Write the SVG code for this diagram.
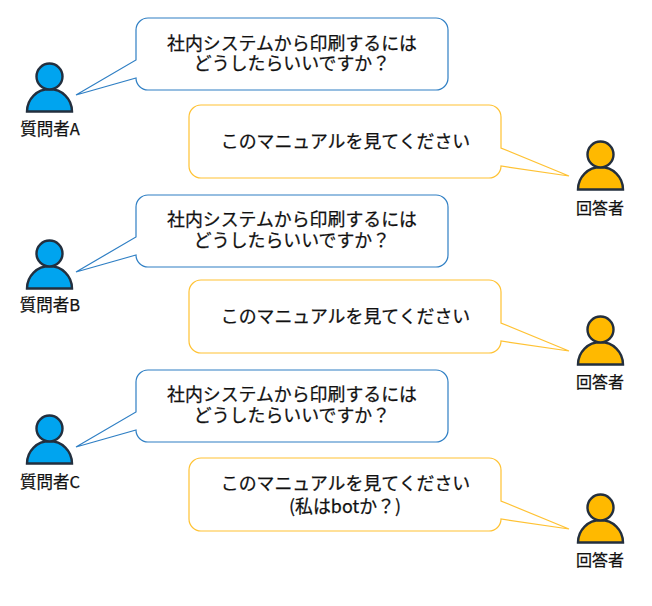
<svg xmlns="http://www.w3.org/2000/svg" width="652" height="606" viewBox="0 0 652 606">
<style>
text{font-family:"Noto Sans CJK JP","Liberation Sans",sans-serif;fill:#111;text-anchor:middle;stroke:#111;stroke-width:.25}
.m{font-size:17.9px}
.l{font-size:16px}
.n{font-size:16.500px}
.q{fill:#fff;stroke:#2f7fc4;stroke-width:1.2;stroke-linejoin:miter}
.a{fill:#fff;stroke:#ffc233;stroke-width:1.2;stroke-linejoin:miter}
.pq{fill:#00a4ef;stroke:#232f3e;stroke-width:2.4}
.pa{fill:#ffb900;stroke:#232f3e;stroke-width:2.4}
</style>
<defs>
<path id="bq" d="M148 18H436A12 12 0 0 1 448 30V78A12 12 0 0 1 436 90H148A12 12 0 0 1 136 78L76 95L136 60V30A12 12 0 0 1 148 18Z"/>
<path id="ba" d="M201 105H489A12 12 0 0 1 501 117V148L569 176L501 166A12 12 0 0 1 489 178H201A12 12 0 0 1 189 166V117A12 12 0 0 1 201 105Z"/>
<g id="person"><path d="M27 111.500A22.500 22.500 0 0 1 72 111.500Z"/><circle cx="49.500" cy="76.500" r="13"/></g>
</defs>
<g id="connectors"/>
<g id="asker-a"><use href="#person" class="pq"/><text class="n" x="50" y="134.500">質問者A</text></g>
<g id="q-a"><use href="#bq" class="q"/><text class="m" x="292" y="49.500">社内システムから印刷するには</text><text class="m" x="292" y="69.500">どうしたらいいですか？</text></g>
<g id="a-a"><use href="#ba" class="a"/><text class="m" x="345.500" y="148">このマニュアルを見てください</text></g>
<g id="answerer-a"><use href="#person" class="pa" transform="translate(551,78)"/><text class="l" x="600" y="214">回答者</text></g>
<g id="asker-b"><use href="#person" class="pq" transform="translate(0,177)"/><text class="n" x="50" y="311">質問者B</text></g>
<g id="q-b"><use href="#bq" class="q" transform="translate(0,177)"/><text class="m" x="292" y="225.500">社内システムから印刷するには</text><text class="m" x="292" y="246.500">どうしたらいいですか？</text></g>
<g id="a-b"><use href="#ba" class="a" transform="translate(0,175)"/><text class="m" x="345.500" y="322.500">このマニュアルを見てください</text></g>
<g id="answerer-b"><use href="#person" class="pa" transform="translate(551,253)"/><text class="l" x="600" y="388">回答者</text></g>
<g id="asker-c"><use href="#person" class="pq" transform="translate(0,352)"/><text class="n" x="50" y="488">質問者C</text></g>
<g id="q-c"><use href="#bq" class="q" transform="translate(0,352)"/><text class="m" x="292" y="400.500">社内システムから印刷するには</text><text class="m" x="292" y="421.500">どうしたらいいですか？</text></g>
<g id="a-c"><use href="#ba" class="a" transform="translate(0,353)"/><text class="m" x="345.500" y="489.500">このマニュアルを見てください</text><text class="m" x="345" y="512.500">(私はbotか？)</text></g>
<g id="answerer-c"><use href="#person" class="pa" transform="translate(551,431)"/><text class="l" x="600" y="566">回答者</text></g>
</svg>
